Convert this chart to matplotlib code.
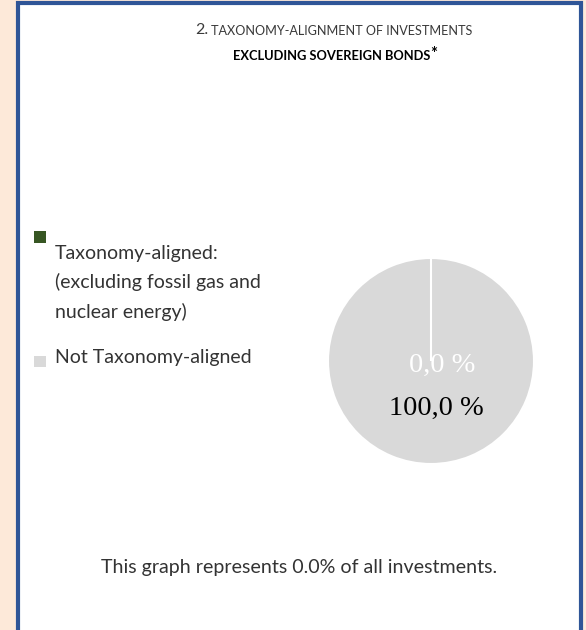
import matplotlib
matplotlib.use("Agg")
import matplotlib.pyplot as plt
from matplotlib.patches import Rectangle

# ---- data ----
categories = [["Taxonomy-aligned:", "(excluding fossil gas and", "nuclear energy)"], ["Not Taxonomy-aligned"]]
values = [0.0, 100.0]
colors = ["#375623", "#D9D9D9"]
label_colors = ["white", "black"]
title_line1_num = "2."
title_line1 = "TAXONOMY-ALIGNMENT OF INVESTMENTS"
title_line2 = "EXCLUDING SOVEREIGN BONDS"
footer = "This graph represents 0.0% of all investments."

W, H = 586, 630
fig = plt.figure(figsize=(W / 100, H / 100), dpi=100)
fig.patch.set_facecolor("#FDE9D9")

bg = fig.add_axes([0, 0, 1, 1])
bg.set_xlim(0, W)
bg.set_ylim(H, 0)
bg.axis("off")
# white panel with blue border
bg.add_patch(Rectangle((17.5, 3), 563, 640, facecolor="white", edgecolor="#2F5597", linewidth=3))

FONT = ["Lato", "DejaVu Sans"]

# title
bg.text(208, 30, title_line1_num, ha="right", va="center", fontsize=11.5, color="#3A3A3A", family=FONT)
bg.text(211, 31, title_line1, ha="left", va="center", fontsize=9.1, color="#3A3A3A", family=FONT)
bg.text(332, 56, title_line2, ha="center", va="center", fontsize=9.3, color="black",
        family=FONT, fontweight="bold")
bg.text(434, 54, "*", ha="center", va="center", fontsize=12, color="black",
        family=FONT, fontweight="bold")

# legend
sq_y = [236.5, 361]
baselines = [[259, 288, 318], [363]]
for lines, col, sy, bls in zip(categories, colors, sq_y, baselines):
    bg.add_patch(Rectangle((34, sy - 5.5), 11.5, 11.5, facecolor=col, edgecolor="none"))
    for line, b in zip(lines, bls):
        bg.text(55, b, line, ha="left", va="baseline", fontsize=14, color="#333333", family=FONT)

# footer
bg.text(299, 567, footer, ha="center", va="center", fontsize=14.1, color="#333333", family=FONT)

# pie
cx, cy, r = 431, 361, 103
pax = fig.add_axes([(cx - r) / W, (H - cy - r) / H, 2 * r / W, 2 * r / H])
wedges, _ = pax.pie(values, colors=colors, startangle=90, counterclock=False, radius=1,
                    wedgeprops=dict(edgecolor="white", linewidth=1.5))
wedges[0].set_zorder(5)
pax.set_xlim(-1, 1)
pax.set_ylim(-1, 1)
pax.set_aspect("auto")
label_pos = [(0.107, -0.04), (0.05, -0.456)]
for v, lc, (lx, ly) in zip(values, label_colors, label_pos):
    pax.text(lx, ly, f"{v:.1f} %".replace(".", ","), ha="center", va="center",
             fontsize=20.5, color=lc, family=["Liberation Serif"], zorder=6)

fig.savefig("out.png", dpi=100, facecolor=fig.get_facecolor())
